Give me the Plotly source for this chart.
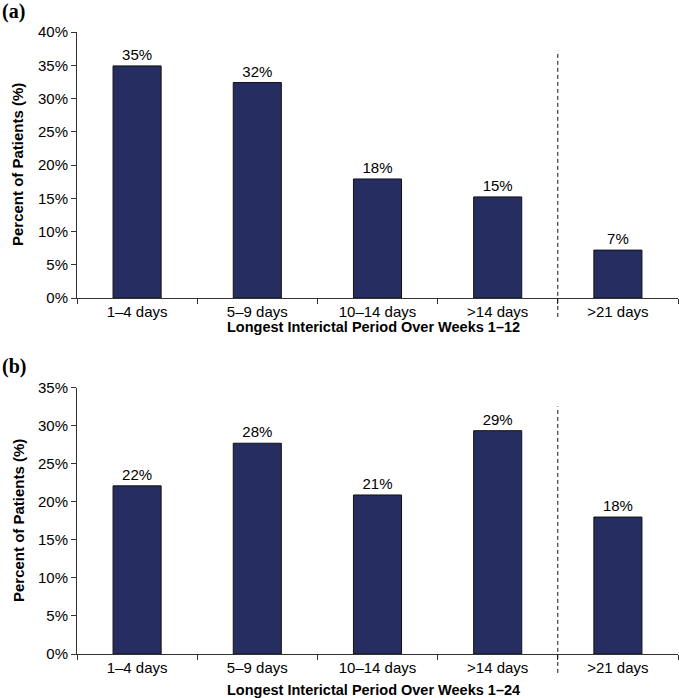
import plotly.graph_objects as go
from plotly.subplots import make_subplots

categories = ["1–4 days", "5–9 days", "10–14 days", ">14 days", ">21 days"]
weeks_1_12 = [34.9, 32.4, 17.9, 15.2, 7.2]
weeks_1_24 = [22.1, 27.7, 20.9, 29.35, 18.0]
ticks_a = [0, 5, 10, 15, 20, 25, 30, 35, 40]
ticks_b = [0, 5, 10, 15, 20, 25, 30, 35]

W, H = 679, 698
def py(px):
    return 1 - px / H

BAR = "#262D60"
FONT = "Liberation Sans, Arial, sans-serif"

fig = make_subplots(rows=2, cols=1)

for r, vals in ((1, weeks_1_12), (2, weeks_1_24)):
    fig.add_trace(go.Bar(
        x=categories, y=vals,
        marker=dict(color=BAR, line=dict(color="#111111", width=1)),
        texttemplate="%{y:.0f}%", textposition="outside",
        textfont=dict(family=FONT, size=15, color="black"),
        cliponaxis=False, showlegend=False, hoverinfo="skip"),
        row=r, col=1)

axis_common = dict(showline=True, linecolor="#333333", linewidth=1,
                   ticks="outside", ticklen=5, tickcolor="#333333",
                   tickfont=dict(family=FONT, size=15, color="black"),
                   showgrid=False, zeroline=False, automargin=False)

fig.update_xaxes(**axis_common, tickson="boundaries", domain=[0, 1])
fig.update_yaxes(**axis_common)

fig.update_layout(
    xaxis=dict(anchor="y"), xaxis2=dict(anchor="y2"),
    yaxis=dict(domain=[py(298), py(32)], range=[0, 40], tickvals=ticks_a,
               ticktext=["%d%%" % v for v in ticks_a]),
    yaxis2=dict(domain=[py(654), py(387.7)], range=[0, 35], tickvals=ticks_b,
                ticktext=["%d%%" % v for v in ticks_b]),
    bargap=0.6,
    width=W, height=H,
    margin=dict(l=77, r=1, t=0, b=0, autoexpand=False),
    paper_bgcolor="white", plot_bgcolor="white",
    font=dict(family=FONT, color="black"),
)

# dashed separators between the 4th and 5th categories
for xr, yr in (("x", "y domain"), ("x2", "y2 domain")):
    fig.add_shape(type="line", xref=xr, yref=yr, x0=3.5, x1=3.5, y0=-0.071, y1=0.93,
                  line=dict(color="#111111", width=1, dash="4px,3px"))

ann = []
for label, yc in (("(a)", 12), ("(b)", 367)):
    ann.append(dict(text="<b>%s</b>" % label, xref="paper", yref="paper",
                    x=-77 / 601, y=py(yc), xanchor="left", yanchor="middle",
                    showarrow=False,
                    font=dict(family="Liberation Serif, Times New Roman, serif", size=20, color="black")))
for yc in (165, 521):
    ann.append(dict(text="<b>Percent of Patients (%)</b>", xref="paper", yref="paper",
                    x=(18 - 77) / 601, y=py(yc), xanchor="center", yanchor="middle",
                    textangle=-90, showarrow=False,
                    font=dict(family=FONT, size=15, color="black")))
for txt, yc in (("Longest Interictal Period Over Weeks 1–12", 327),
                ("Longest Interictal Period Over Weeks 1–24", 690)):
    ann.append(dict(text="<b>%s</b>" % txt, xref="paper", yref="paper",
                    x=(373 - 77) / 601, y=py(yc), xanchor="center", yanchor="middle",
                    showarrow=False,
                    font=dict(family=FONT, size=14.5, color="black")))
fig.update_layout(annotations=ann)

fig.write_html("out.html", config={"displayModeBar": False},
               post_script="document.body.style.margin='0';"
                           "document.documentElement.style.overflow='hidden';")
